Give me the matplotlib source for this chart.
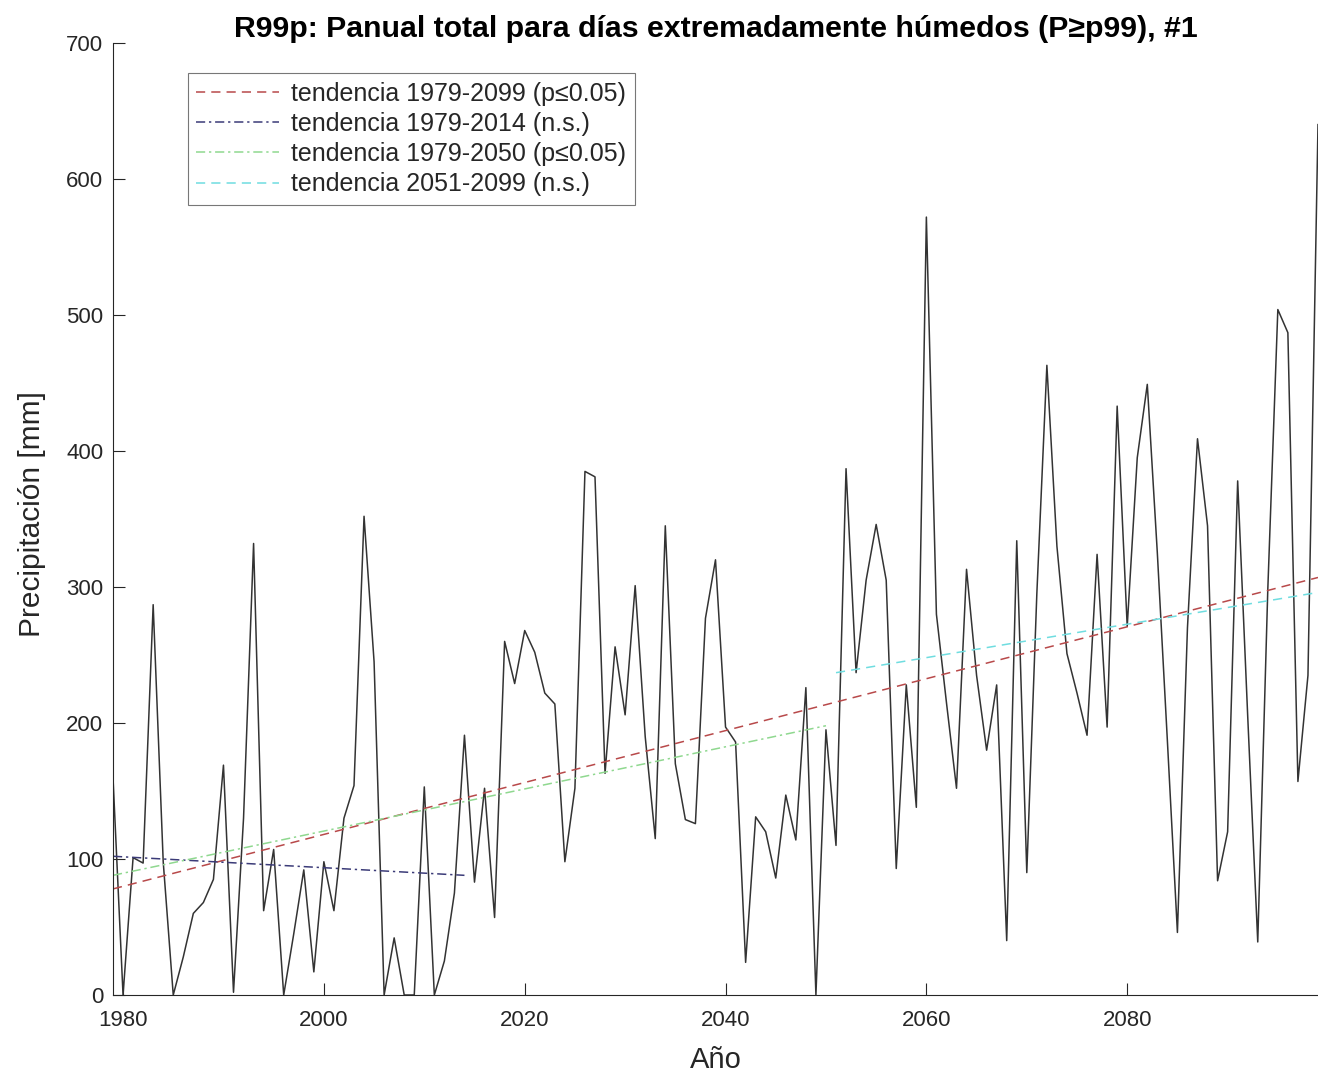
import numpy as np
import matplotlib
matplotlib.use("Agg")
import matplotlib.pyplot as plt

plt.rcParams["font.family"] = ["Liberation Sans", "DejaVu Sans"]

# annual R99p totals, 1979-2099
years = np.arange(1979, 2100)
r99p = [160, 0, 101, 97, 287, 98, 0, 28, 60, 68,
        85, 169, 2, 130, 332, 62, 107, 0, 45, 92,
        17, 98, 62, 130, 154, 352, 245, 0, 42, 0,
        0, 153, 0, 25, 75, 191, 83, 152, 57, 260,
        229, 268, 252, 222, 214, 98, 152, 385, 381, 163,
        256, 206, 301, 190, 115, 345, 170, 129, 126, 277,
        320, 197, 186, 24, 131, 120, 86, 147, 114, 226,
        0, 195, 110, 387, 237, 305, 346, 305, 93, 228,
        138, 572, 280, 215, 152, 313, 235, 180, 228, 40,
        334, 90, 295, 463, 330, 251, 222, 191, 324, 197,
        433, 271, 395, 449, 325, 187, 46, 270, 409, 345,
        84, 120, 378, 205, 39, 298, 504, 487, 157, 235,
        640]

# trend lines: period and fitted value at start / end
trend_labels = ["tendencia 1979-2099 (p\u22640.05)",
                "tendencia 1979-2014 (n.s.)",
                "tendencia 1979-2050 (p\u22640.05)",
                "tendencia 2051-2099 (n.s.)"]
trend_years = [(1979, 2099), (1979, 2014), (1979, 2050), (2051, 2099)]
trend_vals = [(78, 307), (102, 88), (88, 198), (237, 296)]
trend_colors = ["#b8494a", "#3b3b78", "#8fd88f", "#6fdde0"]
trend_styles = [(0, (6, 4)), (0, (6, 2.5, 1.5, 2.5)), (0, (6, 2.5, 1.5, 2.5)), (0, (6, 4))]

fig = plt.figure(figsize=(13.18, 10.78), dpi=100)
ax = fig.add_axes([113 / 1318, 1 - 995 / 1078, 1 - 113 / 1318, (995 - 43) / 1078])

ax.plot(years, r99p, color="#333333", linewidth=1.1)
handles = []
for lab, yr, vv, c, ls in zip(trend_labels, trend_years, trend_vals, trend_colors, trend_styles):
    h, = ax.plot(yr, vv, color=c, linestyle=ls, linewidth=1.1, label=lab)
    handles.append(h)

ax.set_xlim(1979, 2099)
ax.set_ylim(0, 700)
ax.set_xticks(np.arange(1980, 2081, 20))
ax.set_yticks(np.arange(0, 701, 100))
ax.tick_params(direction="in", length=8.5, width=0.8, labelsize=16, colors="#262626")
ax.tick_params(axis="x", pad=11)
ax.tick_params(axis="y", pad=7)
for s in ["top", "right"]:
    ax.spines[s].set_visible(False)
for s in ["left", "bottom"]:
    ax.spines[s].set_color("#262626")
    ax.spines[s].set_linewidth(0.8)

ax.set_xlabel("A\u00f1o", fontsize=21, color="#262626")
ax.set_ylabel("Precipitaci\u00f3n [mm]", fontsize=21.5, color="#262626")
ax.xaxis.set_label_coords(0.5, -0.054)
ax.yaxis.set_label_coords(-0.056, 0.505)
ax.set_title("R99p: Panual total para d\u00edas extremadamente h\u00famedos (P\u2265p99), #1",
             fontsize=21.8, fontweight="bold", color="black", pad=4)

leg = ax.legend(handles=handles, loc="upper left", bbox_to_anchor=(0.062, 0.9685),
                borderaxespad=0, fontsize=18, frameon=True, fancybox=False,
                handlelength=3.3, handletextpad=0.5, labelspacing=0.25, borderpad=0.35)
leg.get_frame().set_edgecolor("#555555")
leg.get_frame().set_linewidth(0.8)
for t in leg.get_texts():
    t.set_color("#262626")

fig.savefig("out.png", dpi=100)
